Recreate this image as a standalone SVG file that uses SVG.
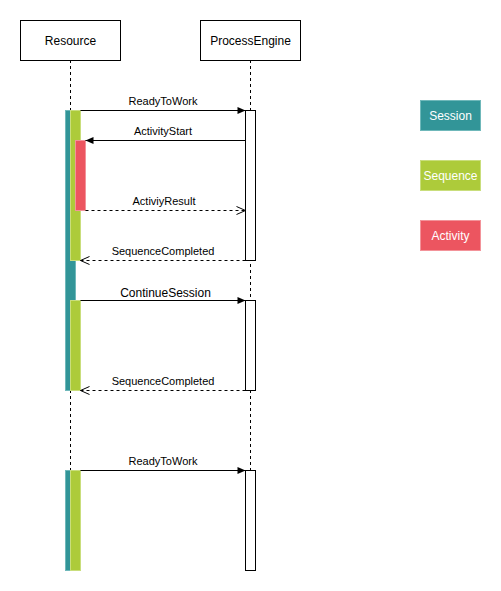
<svg xmlns="http://www.w3.org/2000/svg" width="501" height="591" viewBox="0 0 501 591">
<style>
.box{fill:#fff;stroke:#000;stroke-width:1}
.life{stroke:#000;stroke-width:1;stroke-dasharray:3 3;fill:none}
.act{fill:#fff;stroke:#000;stroke-width:1}
.ses{fill:#329598;stroke:#6fb8ba;stroke-width:1}
.seq{fill:#adcb3a;stroke:#c9de7c;stroke-width:1}
.acty{fill:#ec5560;stroke:#f3939a;stroke-width:1}
.t{font-family:"Liberation Sans",Arial,sans-serif;font-size:12px;fill:#000;text-anchor:middle}
.m{font-family:"Liberation Sans",Arial,sans-serif;font-size:11px;fill:#000;text-anchor:middle}
.w{font-family:"Liberation Sans",Arial,sans-serif;font-size:12px;fill:#fff;text-anchor:middle}
.sync{stroke:#000;stroke-width:1;fill:none;marker-end:url(#filled)}
.ret{stroke:#000;stroke-width:1;fill:none;stroke-dasharray:3 3;marker-end:url(#open)}
</style>
<defs>
<marker id="filled" markerWidth="10" markerHeight="10" refX="9" refY="5" orient="auto" markerUnits="userSpaceOnUse">
<path d="M1,1.5 L9,5 L1,8.5 Z" fill="#000"/>
</marker>
<marker id="open" markerWidth="12" markerHeight="10" refX="10" refY="5" orient="auto" markerUnits="userSpaceOnUse">
<path d="M1,1 L10,5 L1,9" fill="none" stroke="#000" stroke-width="1"/>
</marker>
</defs>
<g id="resource">
<line class="life" x1="70.5" y1="60" x2="70.5" y2="570"/>
<rect class="box" x="20.5" y="20.5" width="100" height="40"/>
<text class="t" x="70.5" y="44.5">Resource</text>
</g>
<g id="processengine">
<line class="life" x1="250.5" y1="60" x2="250.5" y2="570"/>
<rect class="box" x="200.5" y="20.5" width="100" height="40"/>
<text class="t" x="250.5" y="44.5">ProcessEngine</text>
</g>
<g id="session-bars">
<rect class="ses" x="65.5" y="110.5" width="10" height="280"/>
<rect class="ses" x="65.5" y="470.5" width="10" height="100"/>
</g>
<g id="sequence-bars">
<rect class="seq" x="70.5" y="110.5" width="10" height="150"/>
<rect class="seq" x="70.5" y="300.5" width="10" height="90"/>
<rect class="seq" x="70.5" y="470.5" width="10" height="100"/>
</g>
<g id="activity-bar">
<rect class="acty" x="75.5" y="140.5" width="10" height="70"/>
</g>
<g id="engine-activations">
<rect class="act" x="245.5" y="110.5" width="10" height="150"/>
<rect class="act" x="245.5" y="300.5" width="10" height="90"/>
<rect class="act" x="245.5" y="470.5" width="10" height="100"/>
</g>
<g id="connectors">
<line class="sync" x1="80.5" y1="110.5" x2="245.5" y2="110.5"/>
<text class="m" x="163" y="105">ReadyToWork</text>
<line class="sync" x1="245.5" y1="140.5" x2="85.5" y2="140.5"/>
<text class="m" x="163" y="135">ActivityStart</text>
<line class="ret" x1="85.5" y1="210.5" x2="245.5" y2="210.5"/>
<text class="m" x="164" y="205">ActiviyResult</text>
<line class="ret" x1="245.5" y1="260.5" x2="80.5" y2="260.5"/>
<text class="m" x="163" y="255">SequenceCompleted</text>
<line class="sync" x1="80.5" y1="300.5" x2="245.5" y2="300.5"/>
<text class="t" x="165.5" y="297">ContinueSession</text>
<line class="ret" x1="245.5" y1="390.5" x2="80.5" y2="390.5"/>
<text class="m" x="163" y="385">SequenceCompleted</text>
<line class="sync" x1="80.5" y1="470.5" x2="245.5" y2="470.5"/>
<text class="m" x="163" y="465">ReadyToWork</text>
</g>
<g id="legend-session">
<rect class="ses" x="420.5" y="100.5" width="60" height="30"/>
<text class="w" x="450.5" y="119.5">Session</text>
</g>
<g id="legend-sequence">
<rect class="seq" x="420.5" y="160.5" width="60" height="30"/>
<text class="w" x="450.5" y="179.5">Sequence</text>
</g>
<g id="legend-activity">
<rect class="acty" x="420.5" y="220.5" width="60" height="30"/>
<text class="w" x="450.5" y="239.5">Activity</text>
</g>
</svg>
